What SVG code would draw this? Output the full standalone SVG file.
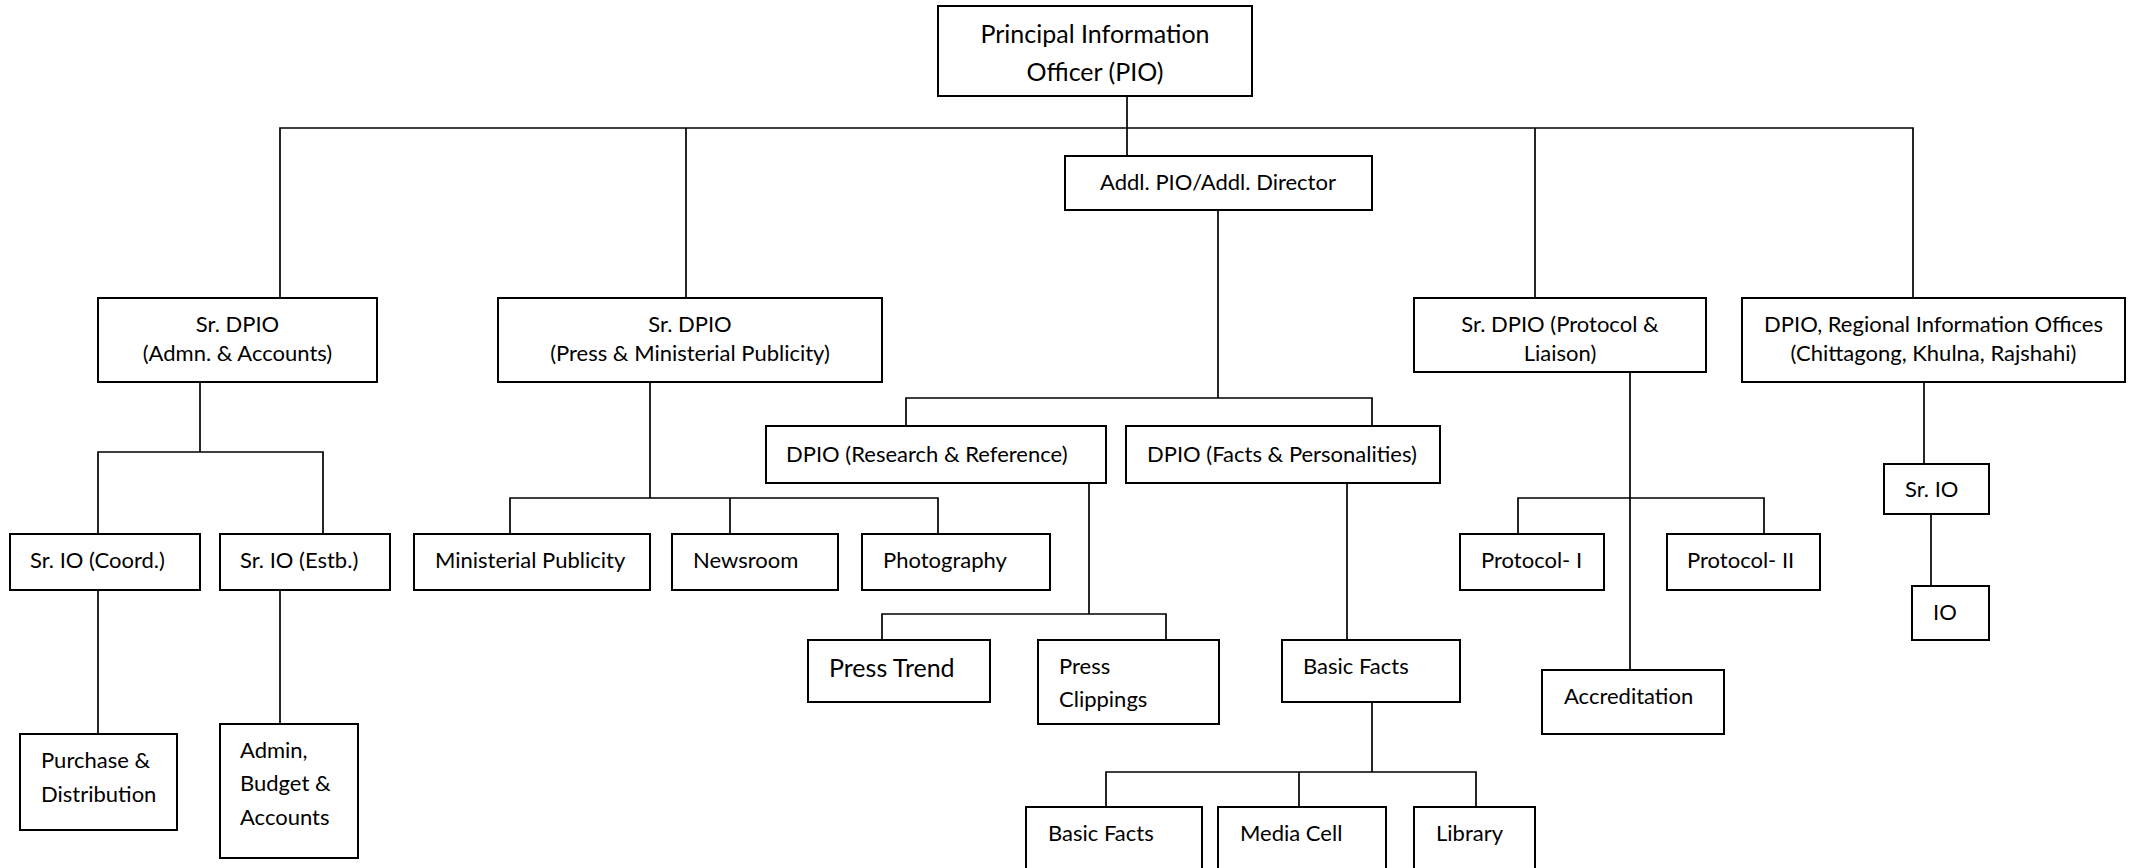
<svg xmlns="http://www.w3.org/2000/svg" width="2134" height="868" viewBox="0 0 2134 868">
  <style>
    .box { fill: #ffffff; stroke: #000000; stroke-width: 2; }
    .wire { fill: none; stroke: #000000; stroke-width: 1.7; }
    text { font-family: Lato, "Liberation Sans", sans-serif; font-size: 22px; fill: #000000; }
    .c { text-anchor: middle; }
    .big { font-size: 25px; }
    .head { font-size: 25px; }
  </style>
  <rect width="2134" height="868" fill="#ffffff"/>

  <!-- connectors -->
  <g id="connectors">
    <path class="wire" d="M1127 96 V156"/>
    <path class="wire" d="M280 298 V128 H1913 V298"/>
    <path class="wire" d="M686 128 V298"/>
    <path class="wire" d="M1535 128 V298"/>
    <path class="wire" d="M1218 210 V398"/>
    <path class="wire" d="M906 426 V398 H1372 V426"/>
    <path class="wire" d="M200 382 V452"/>
    <path class="wire" d="M98 534 V452 H323 V534"/>
    <path class="wire" d="M98 590 V734"/>
    <path class="wire" d="M280 590 V724"/>
    <path class="wire" d="M650 382 V498"/>
    <path class="wire" d="M510 534 V498 H938 V534"/>
    <path class="wire" d="M730 498 V534"/>
    <path class="wire" d="M1089 483 V614"/>
    <path class="wire" d="M882 640 V614 H1166 V640"/>
    <path class="wire" d="M1347 483 V640"/>
    <path class="wire" d="M1372 702 V772"/>
    <path class="wire" d="M1106 807 V772 H1476 V807"/>
    <path class="wire" d="M1299 772 V807"/>
    <path class="wire" d="M1630 372 V670"/>
    <path class="wire" d="M1518 534 V498 H1764 V534"/>
    <path class="wire" d="M1924 382 V464"/>
    <path class="wire" d="M1931 514 V586"/>
  </g>

  <!-- top level -->
  <g id="pio">
    <rect class="box" x="938" y="6" width="314" height="90"/>
    <text class="c head" x="1095" y="43">Principal Information</text>
    <text class="c head" x="1095" y="81">Officer (PIO)</text>
  </g>
  <g id="addl-pio">
    <rect class="box" x="1065" y="156" width="307" height="54"/>
    <text class="c" x="1218" y="190">Addl. PIO/Addl. Director</text>
  </g>

  <!-- senior deputies -->
  <g id="srdpio-admn">
    <rect class="box" x="98" y="298" width="279" height="84"/>
    <text class="c" x="237.5" y="332">Sr. DPIO</text>
    <text class="c" x="237.5" y="361">(Admn. &amp; Accounts)</text>
  </g>
  <g id="srdpio-press">
    <rect class="box" x="498" y="298" width="384" height="84"/>
    <text class="c" x="690" y="332">Sr. DPIO</text>
    <text class="c" x="690" y="361">(Press &amp; Ministerial Publicity)</text>
  </g>
  <g id="srdpio-protocol">
    <rect class="box" x="1414" y="298" width="292" height="74"/>
    <text class="c" x="1560" y="332">Sr. DPIO (Protocol &amp;</text>
    <text class="c" x="1560" y="361">Liaison)</text>
  </g>
  <g id="dpio-regional">
    <rect class="box" x="1742" y="298" width="383" height="84"/>
    <text class="c" x="1933.5" y="332">DPIO, Regional Information Offices</text>
    <text class="c" x="1933.5" y="361">(Chittagong, Khulna, Rajshahi)</text>
  </g>

  <!-- deputies under the additional director -->
  <g id="dpio-research">
    <rect class="box" x="766" y="426" width="340" height="57"/>
    <text x="786" y="462">DPIO (Research &amp; Reference)</text>
  </g>
  <g id="dpio-facts">
    <rect class="box" x="1126" y="426" width="314" height="57"/>
    <text x="1147" y="462">DPIO (Facts &amp; Personalities)</text>
  </g>

  <!-- admin & accounts branch -->
  <g id="srio-coord">
    <rect class="box" x="10" y="534" width="190" height="56"/>
    <text x="30" y="568">Sr. IO (Coord.)</text>
  </g>
  <g id="srio-estb">
    <rect class="box" x="220" y="534" width="170" height="56"/>
    <text x="240" y="568">Sr. IO (Estb.)</text>
  </g>
  <g id="purchase">
    <rect class="box" x="20" y="734" width="157" height="96"/>
    <text x="41" y="768">Purchase &amp;</text>
    <text x="41" y="802">Distribution</text>
  </g>
  <g id="admin-budget">
    <rect class="box" x="220" y="724" width="138" height="134"/>
    <text x="240" y="758">Admin,</text>
    <text x="240" y="791">Budget &amp;</text>
    <text x="240" y="825">Accounts</text>
  </g>

  <!-- press & ministerial publicity branch -->
  <g id="ministerial">
    <rect class="box" x="414" y="534" width="236" height="56"/>
    <text x="435" y="568">Ministerial Publicity</text>
  </g>
  <g id="newsroom">
    <rect class="box" x="672" y="534" width="166" height="56"/>
    <text x="693" y="568">Newsroom</text>
  </g>
  <g id="photography">
    <rect class="box" x="862" y="534" width="188" height="56"/>
    <text x="883" y="568">Photography</text>
  </g>

  <!-- research & reference branch -->
  <g id="press-trend">
    <rect class="box" x="808" y="640" width="182" height="62"/>
    <text class="big" x="829" y="677">Press Trend</text>
  </g>
  <g id="press-clippings">
    <rect class="box" x="1038" y="640" width="181" height="84"/>
    <text x="1059" y="674">Press</text>
    <text x="1059" y="707">Clippings</text>
  </g>

  <!-- facts & personalities branch -->
  <g id="basic-facts">
    <rect class="box" x="1282" y="640" width="178" height="62"/>
    <text x="1303" y="674">Basic Facts</text>
  </g>
  <g id="basic-facts-unit">
    <rect class="box" x="1026" y="807" width="176" height="70"/>
    <text x="1048" y="841">Basic Facts</text>
  </g>
  <g id="media-cell">
    <rect class="box" x="1218" y="807" width="168" height="70"/>
    <text x="1240" y="841">Media Cell</text>
  </g>
  <g id="library">
    <rect class="box" x="1414" y="807" width="121" height="70"/>
    <text x="1436" y="841">Library</text>
  </g>

  <!-- protocol & liaison branch -->
  <g id="protocol-1">
    <rect class="box" x="1460" y="534" width="144" height="56"/>
    <text x="1481" y="568">Protocol- I</text>
  </g>
  <g id="protocol-2">
    <rect class="box" x="1667" y="534" width="153" height="56"/>
    <text x="1687" y="568">Protocol- II</text>
  </g>
  <g id="accreditation">
    <rect class="box" x="1542" y="670" width="182" height="64"/>
    <text x="1564" y="704">Accreditation</text>
  </g>

  <!-- regional offices branch -->
  <g id="srio-regional">
    <rect class="box" x="1884" y="464" width="105" height="50"/>
    <text x="1905" y="497">Sr. IO</text>
  </g>
  <g id="io">
    <rect class="box" x="1912" y="586" width="77" height="54"/>
    <text x="1933" y="620">IO</text>
  </g>
</svg>
